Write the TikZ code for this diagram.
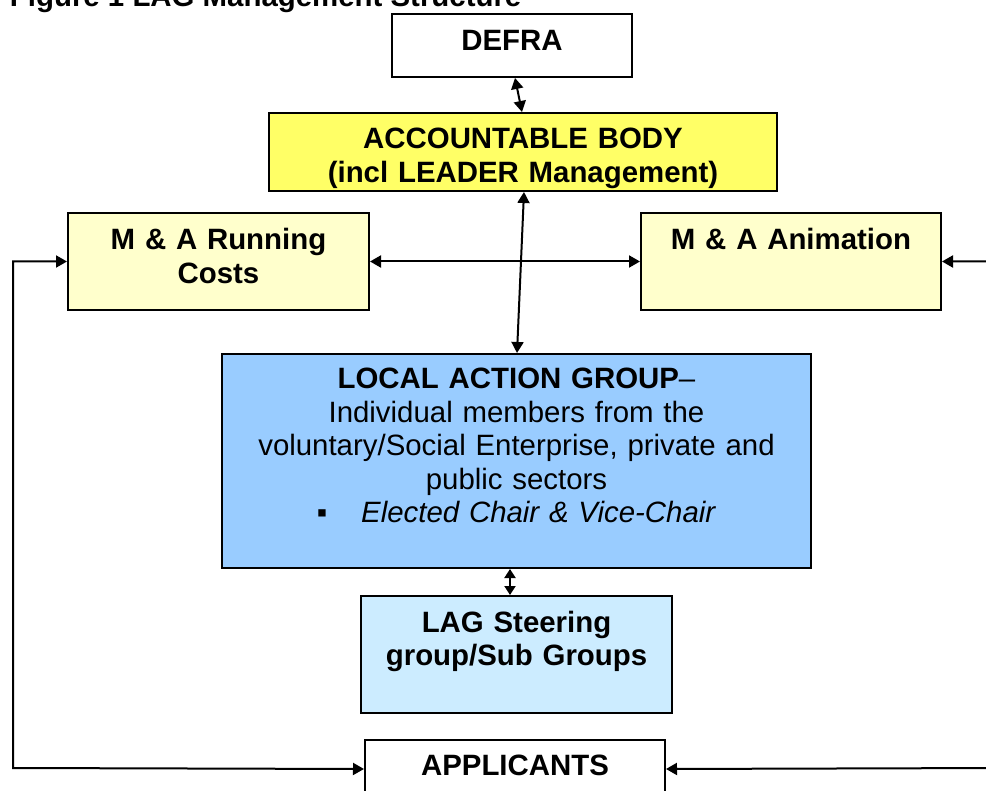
\documentclass[tikz,border=0pt]{standalone}
\usepackage{fontspec}
\setmainfont{Liberation Sans}
\usetikzlibrary{arrows.meta, positioning}
\definecolor{bodyyellow}{HTML}{FFFF66}
\definecolor{paleyellow}{HTML}{FFFFCC}
\definecolor{lagblue}{HTML}{99CCFF}
\definecolor{steerblue}{HTML}{CCECFF}
\tikzstyle{block} = [draw, rectangle, fill=white, line width=1pt,
    inner sep=0pt, align=center, anchor=north,
    font=\fontsize{14.7}{16.7}\selectfont\bfseries]
\tikzstyle{corner} = [coordinate]

\begin{document}
\begin{tikzpicture}[x=0.5pt, y=-0.5pt, line width=1pt, >={Triangle[length=5.5pt,width=6pt]}]
    \useasboundingbox (0,0) rectangle (986,791);
    \clip (0,0) rectangle (986,791);
    \node [anchor=base west, inner sep=0pt, font=\fontsize{14.7}{16}\selectfont\bfseries] (title) at (9,7) {Figure 1 LAG Management Structure};
    \node [block, text width=120pt, text height=18.5pt, text depth=13pt] (defra) at (512,13) {DEFRA};
    \node [block, fill=bodyyellow, text width=254pt, text height=18pt, text depth=21pt] (body) at (523,112) {ACCOUNTABLE BODY\\(incl LEADER Management)};
    \node [block, fill=paleyellow, text width=150.5pt, text height=18.5pt, text depth=30pt] (running) at (218.5,212) {M \& A Running\\Costs};
    \node [block, fill=paleyellow, text width=150pt, text height=18.5pt, text depth=30pt] (animation) at (791,212) {M \& A Animation};
    \node [block, fill=lagblue, text width=294.5pt, text height=17.5pt, text depth=89.5pt, font=\fontsize{14.7}{16.7}\selectfont] (lag) at (516.5,353)
        {\textbf{LOCAL ACTION GROUP}--\\Individual members from the\\voluntary/Social Enterprise, private and\\public sectors\\▪\hspace{17pt}\textit{Elected Chair \& Vice-Chair}};
    \node [block, fill=steerblue, text width=155.5pt, text height=18pt, text depth=40.5pt] (steering) at (516.5,595) {LAG Steering\\group/Sub Groups};
    \node [block, text width=150pt, text height=17.5pt, text depth=11.5pt] (applicants) at (515,739) {APPLICANTS};
    \node [corner] (leftbend) at (13,768) {};
    \node [corner] (rightbend) at (1005,768) {};
    \draw [<->] ([xshift=1.5pt]defra.south) -- ([xshift=-0.5pt]body.north);
    \draw [<->] ([xshift=0.5pt]body.south) -- ([xshift=0.25pt]lag.north);
    \draw [<->] (running.east) -- (animation.west);
    \draw [<->, >={Triangle[length=4.5pt,width=5.5pt]}] ([xshift=-3.25pt]lag.south) -- ([xshift=-3.25pt]steering.north);
    \draw [<->] (running.west) -| (leftbend) -- (applicants.west);
    \draw [<->] (animation.east) -| (rightbend) -- (applicants.east);
\end{tikzpicture}
\end{document}
